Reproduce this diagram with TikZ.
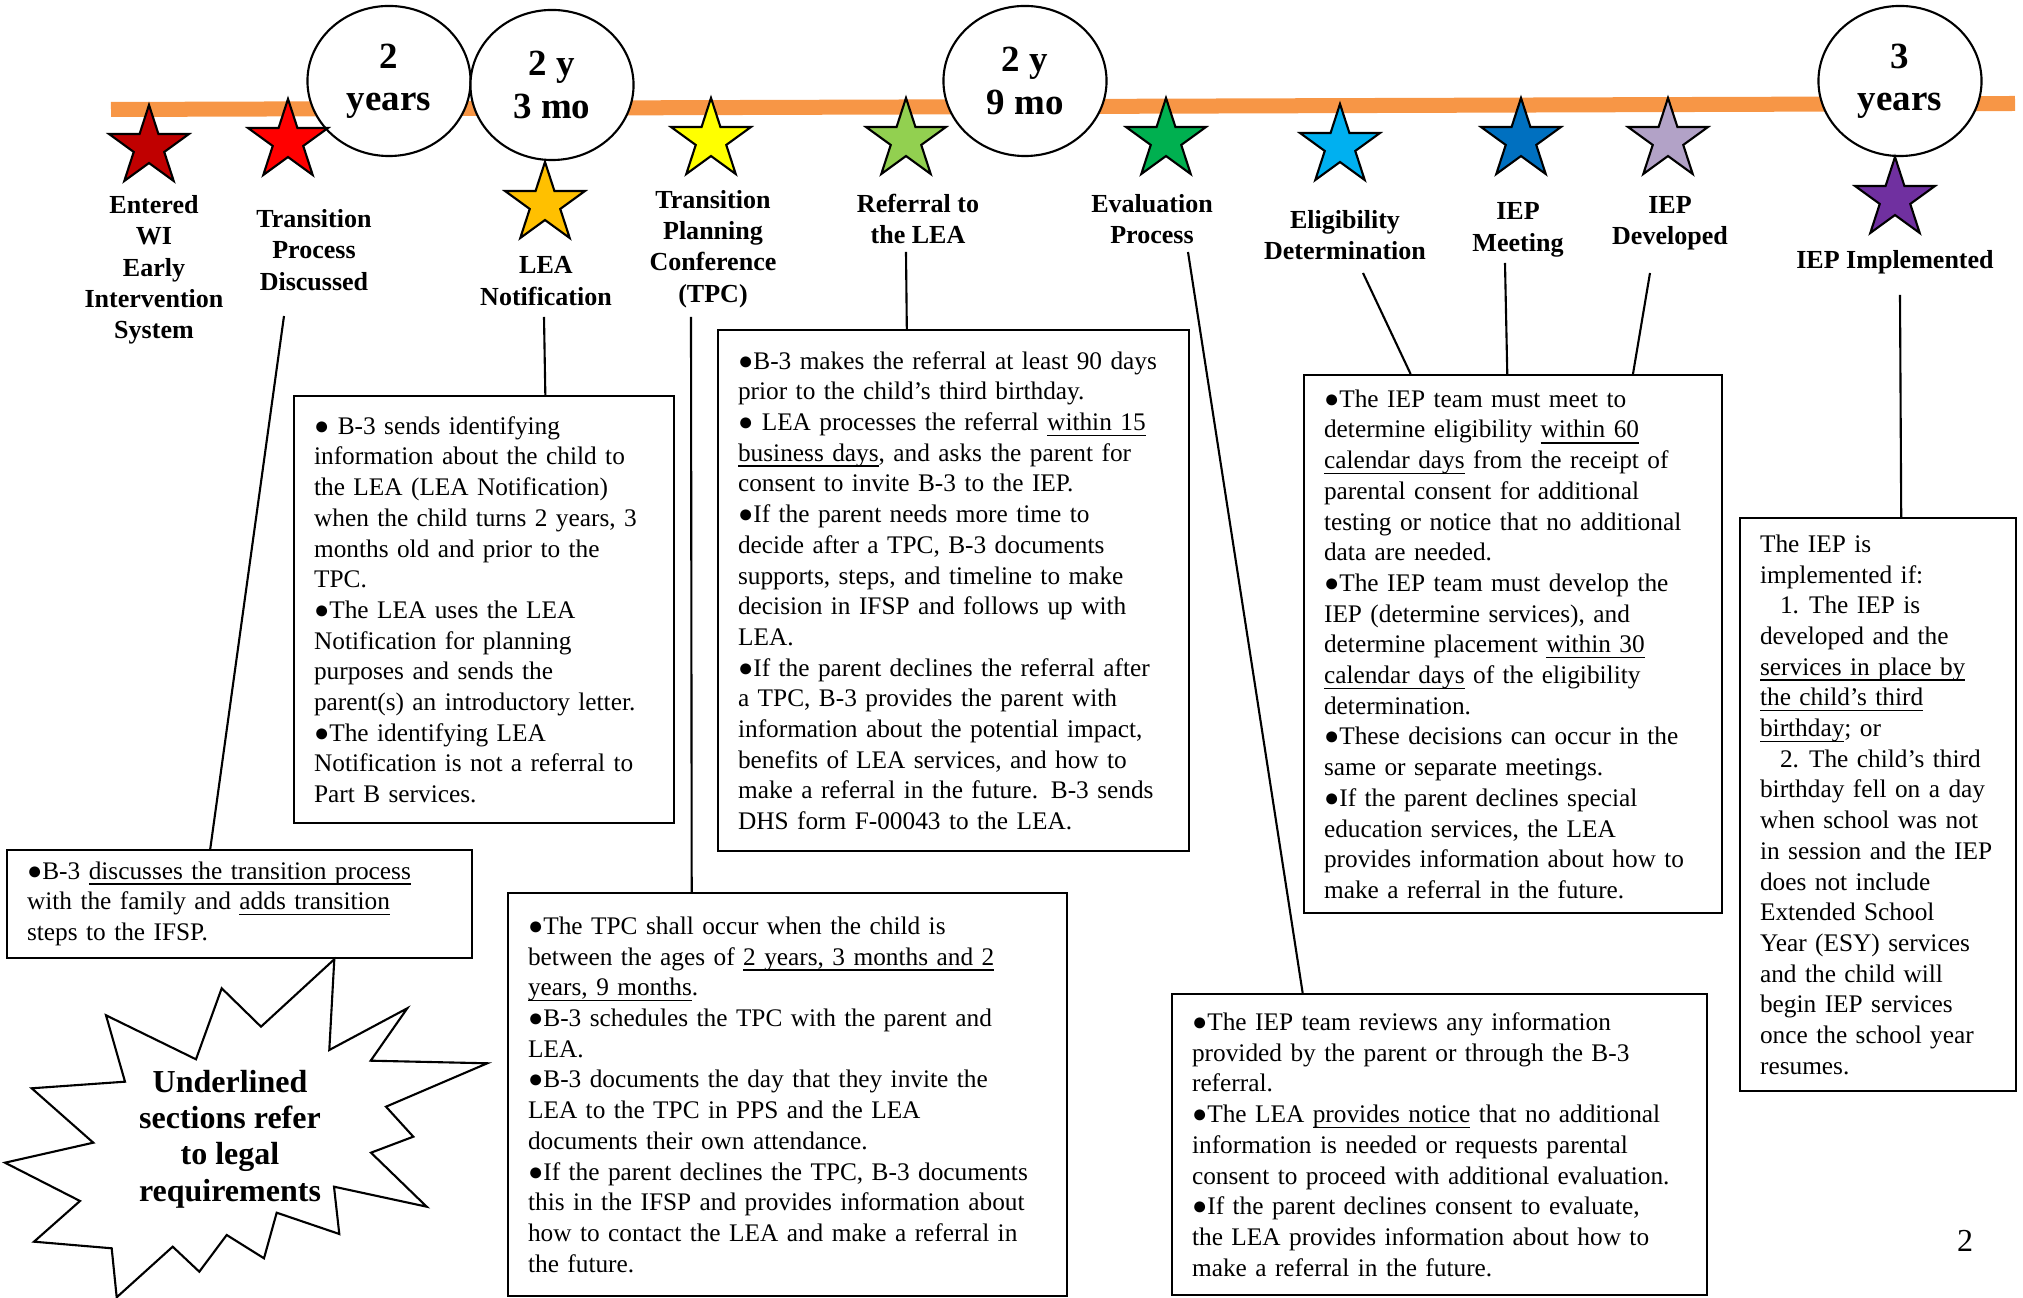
\documentclass[tikz,border=0pt]{standalone}
\usepackage{fontspec}
\setmainfont{Liberation Serif}
\usetikzlibrary{shapes.geometric, calc}

\definecolor{barorange}{HTML}{F79646}
\definecolor{stardarkred}{HTML}{C00000}
\definecolor{starred}{HTML}{FF0000}
\definecolor{stargold}{HTML}{FFC000}
\definecolor{staryellow}{HTML}{FFFF00}
\definecolor{starlime}{HTML}{92D050}
\definecolor{stargreen}{HTML}{00B050}
\definecolor{starcyan}{HTML}{00B0F0}
\definecolor{starblue}{HTML}{0070C0}
\definecolor{starlilac}{HTML}{B2A2C7}
\definecolor{starpurple}{HTML}{7030A0}

% underline for the legal requirements, close to the baseline
\newcommand{\lawul}[1]{\underline{\smash{#1}}}

\tikzset{
  agebubble/.style={ellipse, draw, fill=white, minimum width=1.63cm, minimum height=1.5cm,
    inner sep=0pt, align=center, font={\fontsize{10.5}{12}\selectfont\bfseries}},
  starmark/.style={star, star points=5, star point ratio=2.62, minimum size=0.84cm,
    inner sep=0pt, draw, fill=#1},
  steplabel/.style={align=center, inner sep=0pt, font={\fontsize{7.4}{8.9}\selectfont\bfseries}},
  infobox/.style={draw, anchor=north west, align=left, inner xsep=0.2cm, inner ysep=0pt,
    font={\fontsize{7.2}{8.73}\selectfont\lineskiplimit=-100pt}},
}

\begin{document}
\begin{tikzpicture}[x=0.01cm, y=-0.01cm, line width=0.6pt]
\useasboundingbox (0,0) rectangle (2023,1298);

% timeline bar
\draw[barorange, line width=0.15cm] (111,109.5) -- (2015,103.5);

% ages
\node[agebubble] (age2) at (389,81) {2\\years};
\node[agebubble] (age2y3) at (552,85) {2 y\\3 mo};
\node[agebubble] (age2y9) at (1025,81) {2 y\\9 mo};
\node[agebubble] (age3) at (1900,81) {3\\years};

% stars
\node[starmark=stardarkred] (s1) at (149,147) {};
\node[starmark=starred] (s2) at (288,141) {};
\node[starmark=stargold] (s3) at (545,204) {};
\node[starmark=staryellow] (s4) at (711,140) {};
\node[starmark=starlime] (s5) at (906,140) {};
\node[starmark=stargreen] (s6) at (1166,140) {};
\node[starmark=starcyan] (s7) at (1340,146) {};
\node[starmark=starblue] (s8) at (1521,140) {};
\node[starmark=starlilac] (s9) at (1668,140) {};
\node[starmark=starpurple] (s10) at (1895,199) {};

% step labels
\node[steplabel] (entered) at (154,270) {Entered\\WI\\Early\\Intervention\\System};
\node[steplabel] (discussed) at (314,250) {Transition\\Process\\Discussed};
\node[steplabel] (leanote) at (546,281) {LEA\\Notification};
\node[steplabel] (tpclbl) at (713,249) {Transition\\Planning\\Conference\\(TPC)};
\node[steplabel] (referral) at (918,219) {Referral to\\the LEA};
\node[steplabel] (evaluation) at (1152,219) {Evaluation\\Process};
\node[steplabel] (eligibility) at (1345,235) {Eligibility\\Determination};
\node[steplabel] (meeting) at (1518,230) {IEP\\Meeting};
\node[steplabel] (developed) at (1670,223) {IEP\\Developed};
\node[steplabel] (implemented) at (1895,262) {IEP Implemented};

% boxes
\node[infobox, text width=4.25cm, minimum height=1.08cm] (disc) at (6,849)
  {●B-3 \lawul{discusses the transition process}\\
   with the family and \lawul{adds transition}\\
   steps to the IFSP.};
\node[infobox, text width=3.40cm, minimum height=4.27cm] (leabox) at (293,395)
  {● B-3 sends identifying\\
   information about the child to\\
   the LEA (LEA Notification)\\
   when the child turns 2 years, 3\\
   months old and prior to the\\
   TPC.\\
   ●The LEA uses the LEA\\
   Notification for planning\\
   purposes and sends the\\
   parent(s) an introductory letter.\\
   ●The identifying LEA\\
   Notification is not a referral to\\
   Part B services.};
\node[infobox, text width=4.31cm, minimum height=5.21cm] (refbox) at (717,329)
  {●B-3 makes the referral at least 90 days\\
   prior to the child’s third birthday.\\
   ● LEA processes the referral \lawul{within 15}\\
   \lawul{business days}, and asks the parent for\\
   consent to invite B-3 to the IEP.\\
   ●If the parent needs more time to\\
   decide after a TPC, B-3 documents\\
   supports, steps, and timeline to make\\
   decision in IFSP and follows up with\\
   LEA.\\
   ●If the parent declines the referral after\\
   a TPC, B-3 provides the parent with\\
   information about the potential impact,\\
   benefits of LEA services, and how to\\
   make a referral in the future. B-3 sends\\
   DHS form F-00043 to the LEA.};
\node[infobox, text width=5.19cm, minimum height=4.03cm] (tpcbox) at (507,892)
  {●The TPC shall occur when the child is\\
   between the ages of \lawul{2 years, 3 months and 2}\\
   \lawul{years, 9 months}.\\
   ●B-3 schedules the TPC with the parent and\\
   LEA.\\
   ●B-3 documents the day that they invite the\\
   LEA to the TPC in PPS and the LEA\\
   documents their own attendance.\\
   ●If the parent declines the TPC, B-3 documents\\
   this in the IFSP and provides information about\\
   how to contact the LEA and make a referral in\\
   the future.};
\node[infobox, text width=3.78cm, minimum height=5.38cm] (eligbox) at (1303,374)
  {●The IEP team must meet to\\
   determine eligibility \lawul{within 60}\\
   \lawul{calendar days} from the receipt of\\
   parental consent for additional\\
   testing or notice that no additional\\
   data are needed.\\
   ●The IEP team must develop the\\
   IEP (determine services), and\\
   determine placement \lawul{within 30}\\
   \lawul{calendar days} of the eligibility\\
   determination.\\
   ●These decisions can occur in the\\
   same or separate meetings.\\
   ●If the parent declines special\\
   education services, the LEA\\
   provides information about how to\\
   make a referral in the future.};
\node[infobox, text width=4.95cm, minimum height=3.01cm] (evalbox) at (1171,993)
  {●The IEP team reviews any information\\
   provided by the parent or through the B-3\\
   referral.\\
   ●The LEA \lawul{provides notice} that no additional\\
   information is needed or requests parental\\
   consent to proceed with additional evaluation.\\
   ●If the parent declines consent to evaluate,\\
   the LEA provides information about how to\\
   make a referral in the future.};
\node[infobox, text width=2.36cm, minimum height=5.73cm] (implbox) at (1739,517)
  {The IEP is\\
   implemented if:\\
   \hspace*{0.2cm}1.\hspace{0.1cm}The IEP is\\
   developed and the\\
   \lawul{services in place by}\\
   \lawul{the child’s third}\\
   \lawul{birthday}; or\\
   \hspace*{0.2cm}2.\hspace{0.1cm}The child’s third\\
   birthday fell on a day\\
   when school was not\\
   in session and the IEP\\
   does not include\\
   Extended School\\
   Year (ESY) services\\
   and the child will\\
   begin IEP services\\
   once the school year\\
   resumes.};

% connectors
\coordinate (discussed-end) at (284,316);
\coordinate (leanote-end) at (544,317);
\coordinate (tpclbl-end) at (691,317);
\coordinate (referral-end) at (906,252);
\coordinate (evaluation-end) at (1188,252);
\coordinate (eligibility-end) at (1363,273);
\coordinate (meeting-end) at (1505,263);
\coordinate (developed-end) at (1650,273);
\coordinate (implemented-end) at (1900,295);
\draw (discussed-end) -- ($(disc.north west)!0.437!(disc.north east)$);
\draw (leanote-end) -- ($(leabox.north west)!0.66!(leabox.north east)$);
\draw (tpclbl-end) -- ($(tpcbox.north west)!0.329!(tpcbox.north east)$);
\draw (referral-end) -- ($(refbox.north west)!0.401!(refbox.north east)$);
\draw (evaluation-end) -- ($(evalbox.north west)!0.245!(evalbox.north east)$);
\draw (eligibility-end) -- ($(eligbox.north west)!0.256!(eligbox.north east)$);
\draw (meeting-end) -- ($(eligbox.north west)!0.486!(eligbox.north east)$);
\draw (developed-end) -- ($(eligbox.north west)!0.785!(eligbox.north east)$);
\draw (implemented-end) -- ($(implbox.north west)!0.583!(implbox.north east)$);

% burst note
\draw[fill=white] (334.3,959.3) -- (329.3,1050) -- (407.3,1008.3) -- (370.7,1060.7)
  -- (487.3,1063.3) -- (386,1106.7) -- (413.3,1136.7) -- (371,1152.7) -- (426.7,1206.7)
  -- (334,1186.7) -- (339.3,1234) -- (276.7,1212.7) -- (264,1258.3) -- (226.7,1235)
  -- (199.3,1271.7) -- (172.7,1246.7) -- (116.7,1297.3) -- (111.7,1248.3) -- (34,1241.7)
  -- (80,1201) -- (5,1162.7) -- (93.3,1142.7) -- (31.7,1088.3) -- (125,1081.7)
  -- (106,1015.3) -- (196,1059.3) -- (221.7,988.3) -- (261,1026.7) -- cycle;
\node[align=center, inner sep=0pt, font={\fontsize{9.1}{10.3}\selectfont\bfseries}] (legal)
  at (230,1139) {Underlined\\sections refer\\to legal\\requirements};

% page number
\node[inner sep=0pt, font={\fontsize{9.1}{10.3}\selectfont}] (pagenum) at (1965,1241) {2};
\end{tikzpicture}
\end{document}
